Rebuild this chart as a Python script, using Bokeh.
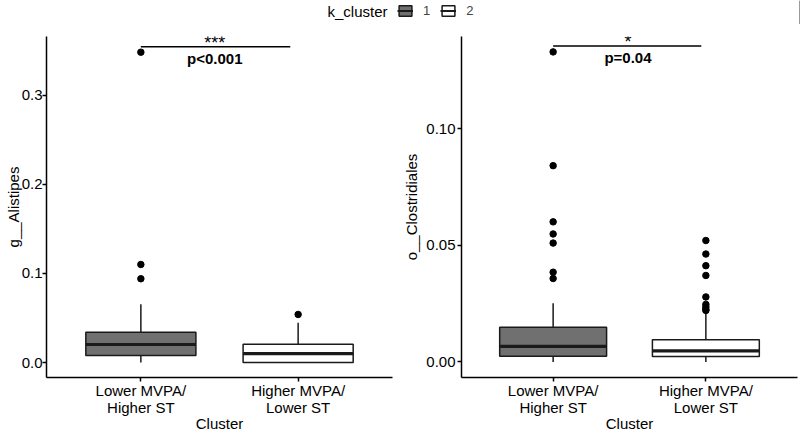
from bokeh.plotting import figure
from bokeh.models import Range1d, FixedTicker, Label, Legend, LegendItem
from bokeh.layouts import column, row
from bokeh.embed import file_html
from bokeh.resources import INLINE

# ---------------- data ----------------
categories = ["Lower MVPA/\nHigher ST", "Higher MVPA/\nLower ST"]
clusters = ["1", "2"]
fills = ["#707070", "#ffffff"]

# g__Alistipes (left panel)
alist_lower = [0.0, 0.0]
alist_q1 = [0.008, 0.0]
alist_median = [0.0203, 0.0100]
alist_q3 = [0.034, 0.0207]
alist_upper = [0.0655, 0.0448]
alist_out_1 = [0.348, 0.110, 0.094]
alist_out_2 = [0.054]
alist_ticks = [0.0, 0.1, 0.2, 0.3]
alist_tick_labels = ["0.0", "0.1", "0.2", "0.3"]
alist_sig_y = 0.354
alist_stars = "***"
alist_p = "p<0.001"

# o__Clostridiales (right panel)
clost_lower = [0.0, 0.0]
clost_q1 = [0.0025, 0.0023]
clost_median = [0.0067, 0.0048]
clost_q3 = [0.0149, 0.0095]
clost_upper = [0.0252, 0.0219]
clost_out_1 = [0.133, 0.0842, 0.0601, 0.0549, 0.0510, 0.0385, 0.0358]
clost_out_2 = [0.0521, 0.0463, 0.0413, 0.0371, 0.0279, 0.0247, 0.0236, 0.0226, 0.0221]
clost_ticks = [0.0, 0.05, 0.10]
clost_tick_labels = ["0.00", "0.05", "0.10"]
clost_sig_y = 0.1355
clost_stars = "*"
clost_p = "p=0.04"

FONT = "Liberation Sans"
ROW_H = 410


def panel(width, border_left, border_right, ylab_standoff, ytick_standoff,
          ylabel, yr, ticks, tick_labels,
          lower, q1, med, q3, upper, out1, out2, sig_y, sig_x1, text_x,
          stars, ptxt):
    p = figure(width=width, height=ROW_H, output_backend="svg",
               toolbar_location=None,
               x_range=Range1d(0.4, 2.6), y_range=Range1d(*yr),
               min_border_left=border_left, min_border_right=border_right,
               min_border_top=12, min_border_bottom=54)
    p.grid.visible = False
    p.outline_line_color = None
    p.background_fill_color = "white"
    p.border_fill_color = "white"

    xs = [i + 1 for i in range(len(categories))]
    half = 0.35
    # whiskers
    p.segment(x0=xs, x1=xs, y0=q3, y1=upper, line_color="#1a1a1a", line_width=1.5)
    p.segment(x0=xs, x1=xs, y0=lower, y1=q1, line_color="#1a1a1a", line_width=1.5)
    # boxes
    p.vbar(x=xs, bottom=q1, top=q3, width=2 * half, fill_color=fills,
           line_color="#1a1a1a", line_width=1.5)
    # medians
    p.segment(x0=[x - half for x in xs], x1=[x + half for x in xs],
              y0=med, y1=med, line_color="#1a1a1a", line_width=3.2)
    # outliers
    ox = [xs[0]] * len(out1) + [xs[1]] * len(out2)
    oy = list(out1) + list(out2)
    p.scatter(x=ox, y=oy, size=6.5, fill_color="black", line_color="black")

    # significance bar
    p.segment(x0=[xs[0]], x1=[sig_x1], y0=[sig_y], y1=[sig_y],
              line_color="black", line_width=1.5)
    p.add_layout(Label(x=text_x, y=sig_y, text=stars, text_align="center",
                       text_baseline="alphabetic", y_offset=4,
                       text_font=FONT, text_font_size="18px", text_color="black"))
    p.add_layout(Label(x=text_x, y=sig_y, text=ptxt, text_align="center",
                       text_baseline="top", y_offset=-3,
                       text_font=FONT, text_font_size="15px",
                       text_font_style="bold", text_color="black"))

    # axes
    p.xaxis.ticker = FixedTicker(ticks=xs)
    p.xaxis.major_label_overrides = {x: c for x, c in zip(xs, categories)}
    p.xaxis.major_label_text_line_height = 1.0
    p.yaxis.ticker = FixedTicker(ticks=ticks)
    p.yaxis.major_label_overrides = {t: l for t, l in zip(ticks, tick_labels)}
    p.xaxis.axis_label = "Cluster"
    p.yaxis.axis_label = ylabel
    for ax in (p.xaxis[0], p.yaxis[0]):
        ax.axis_line_color = "black"
        ax.axis_line_width = 1.5
        ax.major_tick_line_color = "black"
        ax.major_tick_line_width = 1.5
        ax.major_tick_out = 4
        ax.major_tick_in = 0
        ax.minor_tick_line_color = None
        ax.major_label_text_font = FONT
        ax.major_label_text_font_size = "15px"
        ax.major_label_text_color = "black"
        ax.axis_label_text_font = FONT
        ax.axis_label_text_font_size = "15px"
        ax.axis_label_text_font_style = "normal"
        ax.axis_label_text_color = "black"
    p.xaxis.major_label_standoff = 0
    p.xaxis.axis_label_standoff = -4
    p.yaxis.major_label_standoff = ytick_standoff
    p.yaxis.axis_label_standoff = ylab_standoff
    return p


p1 = panel(400, 46, 8, -3, 0, "g__Alistipes", (-0.0167, 0.3656), alist_ticks,
           alist_tick_labels, alist_lower, alist_q1, alist_median, alist_q3,
           alist_upper, alist_out_1, alist_out_2, alist_sig_y, 1.95, 1.47,
           alist_stars, alist_p)
p2 = panel(400, 61, 3, 3, 2, "o__Clostridiales", (-0.00666, 0.1396), clost_ticks,
           clost_tick_labels, clost_lower, clost_q1, clost_median, clost_q3,
           clost_upper, clost_out_1, clost_out_2, clost_sig_y, 1.97, 1.49,
           clost_stars, clost_p)

# ---------------- legend strip ----------------
LEG_H = 24
leg = figure(width=800, height=LEG_H, output_backend="svg", toolbar_location=None,
             x_range=Range1d(0, 1), y_range=Range1d(0, 1), min_border=0)
leg.axis.visible = False
leg.grid.visible = False
leg.outline_line_color = None
items = []
for c, f in zip(clusters, fills):
    rb = leg.vbar(x=[5], bottom=[0], top=[1], width=0.1, fill_color=f,
                  line_color="#1a1a1a", line_width=1.5)
    rm = leg.segment(x0=[5], x1=[6], y0=[0.5], y1=[0.5], line_color="#1a1a1a",
                     line_width=2)
    items.append(LegendItem(label=c, renderers=[rb, rm]))
legend = Legend(items=items, orientation="horizontal", location=(397, 6),
                glyph_width=16, glyph_height=13, label_standoff=10, spacing=10,
                label_width=7, padding=0, margin=0, border_line_color=None,
                background_fill_alpha=0, label_text_font=FONT,
                label_text_font_size="13px", label_height=13)
leg.add_layout(legend, "center")
leg.add_layout(Label(x=327, y=13, x_units="screen", y_units="screen",
                     text="k_cluster", text_baseline="middle", text_font=FONT,
                     text_font_size="15px", text_color="black"))

layout = column(leg, row(p1, p2))
open("out.html", "w").write(file_html(layout, INLINE))
